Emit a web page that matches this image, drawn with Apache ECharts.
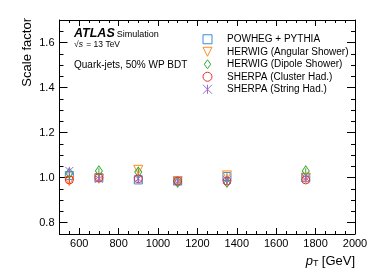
<!DOCTYPE html>
<html><head><meta charset="utf-8">
<script src="https://cdn.jsdelivr.net/npm/echarts@6/dist/echarts.min.js"></script>
<style>html,body{margin:0;padding:0;background:#fff}#c{width:374px;height:280px}</style>
</head><body><div id="c"></div>
<script>
const ptBins = [550, 700, 900, 1100, 1350, 1750];
const seriesNames = ['POWHEG + PYTHIA', 'HERWIG (Angular Shower)', 'HERWIG (Dipole Shower)', 'SHERPA (Cluster Had.)', 'SHERPA (String Had.)'];
const powhegPythia  = [1.010, 1.000, 0.990, 0.985, 1.005, 1.000];
const herwigAngular = [0.985, 0.995, 1.035, 0.985, 1.010, 1.000];
const herwigDipole  = [1.020, 1.030, 1.025, 0.980, 0.980, 1.030];
const sherpaCluster = [0.990, 1.000, 0.995, 0.985, 0.985, 0.990];
const sherpaString  = [1.030, 0.995, 0.995, 0.985, 0.990, 1.000];
const powhegErr  = [0.012, 0.012, 0.012, 0.010, 0.012, 0.012];
const angularErr = [0.012, 0.012, 0.012, 0.010, 0.012, 0.012];
const dipoleErr  = [0.012, 0.012, 0.012, 0.010, 0.012, 0.012];
const clusterErr = [0.012, 0.012, 0.012, 0.010, 0.012, 0.012];
const stringErr  = [0.012, 0.012, 0.012, 0.010, 0.012, 0.012];
const xTickLabels = [600, 800, 1000, 1200, 1400, 1600, 1800, 2000];
const yTickLabels = [0.8, 1.0, 1.2, 1.4, 1.6];

const colors = ['#3d8bd8', '#ff8a1c', '#33a833', '#e6302b', '#9a6ccf'];
const symbols = ['rect', 'path://M0,0L10,0L5,10Z', 'path://M5,0L10,7L5,14L0,7Z', 'circle', 'path://M0,0L10,10M10,0L0,10M5,0L5,10'];
const sizes = [8, 9, [7, 10], 8, 8];
const values = [powhegPythia, herwigAngular, herwigDipole, sherpaCluster, sherpaString];
const errs = [powhegErr, angularErr, dipoleErr, clusterErr, stringErr];
const FONT = 'Liberation Sans, Arial, Helvetica, sans-serif';

const chart = echarts.init(document.getElementById('c'), null, {renderer: 'canvas'});

function xAx(pos, major, labels) {
  return {
    type: 'value', position: pos, min: 500, max: 2000, interval: 50,
    axisLine: {show: !major, lineStyle: {color: '#000', width: 1}},
    splitLine: {show: false},
    axisTick: major ? {show: true, inside: true, length: 6, customValues: xTickLabels, lineStyle: {color: '#000'}}
                    : {show: true, inside: true, length: 3, lineStyle: {color: '#000'}},
    axisLabel: labels ? {show: true, customValues: xTickLabels, color: '#000', fontSize: 11, fontFamily: FONT, margin: 4,
                         formatter: v => String(v)} : {show: false}
  };
}
function yAx(pos, major, labels) {
  return {
    type: 'value', position: pos, min: 0.75, max: 1.7, interval: 0.05,
    axisLine: {show: !major, lineStyle: {color: '#000', width: 1}},
    splitLine: {show: false},
    axisTick: major ? {show: true, inside: true, length: 8, customValues: yTickLabels, lineStyle: {color: '#000'}}
                    : {show: true, inside: true, length: 4, lineStyle: {color: '#000'}},
    axisLabel: labels ? {show: true, customValues: yTickLabels, color: '#000', fontSize: 11, fontFamily: FONT, margin: 5,
                         formatter: v => v.toFixed(1)} : {show: false}
  };
}

const series = [];
values.forEach((vals, i) => {
  series.push({
    name: 'err' + i, type: 'custom', xAxisIndex: 0, yAxisIndex: 0, silent: true, z: 2,
    data: ptBins.map((x, k) => [x, vals[k] - errs[i][k], vals[k] + errs[i][k]]),
    renderItem: (params, api) => {
      const p1 = api.coord([api.value(0), api.value(1)]);
      const p2 = api.coord([api.value(0), api.value(2)]);
      return {type: 'line', shape: {x1: p1[0], y1: p1[1], x2: p2[0], y2: p2[1]},
              style: {stroke: colors[i], lineWidth: 1}};
    }
  });
});
values.forEach((vals, i) => {
  series.push({
    name: seriesNames[i], type: 'scatter', xAxisIndex: 0, yAxisIndex: 0, z: 3,
    symbol: symbols[i], symbolSize: sizes[i],
    itemStyle: {color: 'rgba(255,255,255,0)', borderColor: colors[i], borderWidth: 1, opacity: 1},
    emphasis: {disabled: true},
    data: ptBins.map((x, k) => [x, vals[k]])
  });
});

chart.setOption({
  animation: false,
  backgroundColor: '#fff',
  textStyle: {fontFamily: FONT},
  grid: {left: 59.5, right: 19, top: 20, bottom: 46, containLabel: false},
  xAxis: [xAx('bottom', false, true), xAx('bottom', true, false), xAx('top', false, false), xAx('top', true, false)],
  yAxis: [yAx('left', false, true), yAx('left', true, false), yAx('right', false, false), yAx('right', true, false)],
  legend: {
    data: seriesNames, orient: 'vertical', left: 197.5, top: 28,
    itemWidth: 9, itemHeight: 9, itemGap: 0,
    itemStyle: {borderWidth: 1},
    textStyle: {fontSize: 10, fontFamily: FONT, color: '#000', lineHeight: 12.5, padding: [0, 0, 0, 10]},
    selectedMode: false
  },
  graphic: [
    {type: 'text', x: 74, y: 34, style: {
      text: '{a|ATLAS}{b|Simulation}', textVerticalAlign: 'middle', textAlign: 'left',
      rich: {a: {font: 'italic bold 12.5px ' + FONT, fill: '#000'}, b: {font: '9px ' + FONT, fill: '#000', padding: [2, 0, 0, 2]}}
    }},
    {type: 'text', x: 74, y: 45, style: {
      text: '{r|√}{i|s} {r|= 13 TeV}', textVerticalAlign: 'middle', textAlign: 'left',
      rich: {r: {font: '8.5px ' + FONT, fill: '#000'}, i: {font: 'italic 8.5px ' + FONT, fill: '#000'}}
    }},
    {type: 'text', x: 74, y: 65.7, style: {
      text: 'Quark-jets, 50% WP BDT', font: '10px ' + FONT, fill: '#000', textVerticalAlign: 'middle', textAlign: 'left'
    }},
    {type: 'text', x: 27, y: 18, rotation: Math.PI / 2, style: {
      text: 'Scale factor', font: '13px ' + FONT, fill: '#000', textVerticalAlign: 'middle', textAlign: 'right'
    }},
    {type: 'text', x: 355, y: 261, style: {
      text: '{p|p}{t|T} {r|[GeV]}', textVerticalAlign: 'middle', textAlign: 'right',
      rich: {p: {font: 'italic 13px ' + FONT, fill: '#000'}, t: {font: '9px ' + FONT, fill: '#000', padding: [6, 0, 0, 0]},
             r: {font: '13px ' + FONT, fill: '#000'}}
    }}
  ],
  series: series
});
</script>
</body></html>
